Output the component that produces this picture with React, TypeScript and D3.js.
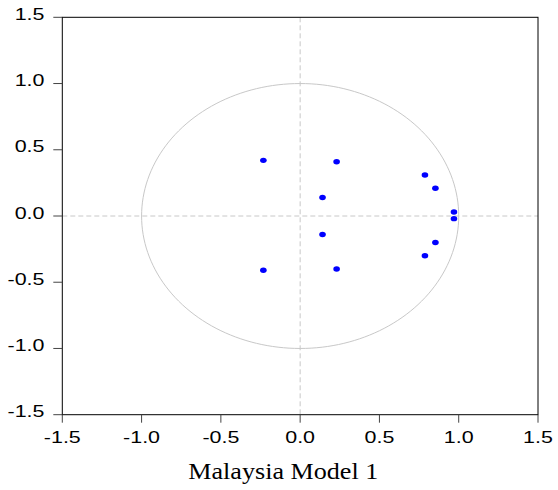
import React from "react";
import * as d3 from "d3";

const rootsRe: number[] = [-0.232, -0.232, 0.23, 0.23, 0.141, 0.141, 0.787, 0.787, 0.853, 0.853, 0.97, 0.97];
const rootsIm: number[] = [0.42, -0.41, 0.41, -0.4, 0.14, -0.14, 0.31, -0.3, 0.21, -0.2, 0.03, -0.02];
const ticks: number[] = [-1.5, -1.0, -0.5, 0.0, 0.5, 1.0, 1.5];
const title = "Malaysia Model 1";

export default function App() {
  const W = 558, H = 490;
  const left = 62.3, right = 538, top = 17.3, bottom = 414.7;
  const x = d3.scaleLinear().domain([-1.5, 1.5]).range([left, right]);
  const y = d3.scaleLinear().domain([-1.5, 1.5]).range([bottom, top]);
  const circle = d3.range(0, 361, 2).map((a) => [Math.cos((a * Math.PI) / 180), Math.sin((a * Math.PI) / 180)] as [number, number]);
  const circlePath = d3.line<[number, number]>().x((d) => x(d[0])).y((d) => y(d[1]))(circle) || "";
  const font = "'Liberation Sans', Arial, sans-serif";
  const fs = 16.5;
  const sx = 1.3;
  return (
    <svg width={W} height={H} style={{ position: "absolute", left: 0, top: 0, background: "#fff" }}>
      <rect x={0} y={0} width={W} height={H} fill="#fff" />
      <line x1={x(0)} x2={x(0)} y1={top} y2={bottom} stroke="#c8c8c8" strokeDasharray="5,3" strokeWidth={1} />
      <line x1={left} x2={right} y1={y(0)} y2={y(0)} stroke="#c8c8c8" strokeDasharray="5,3" strokeWidth={1} />
      <path d={circlePath} fill="none" stroke="#c8c8c8" strokeWidth={1} />
      {rootsRe.map((re, i) => (
        <ellipse key={i} cx={x(re)} cy={y(rootsIm[i])} rx={3.3} ry={2.7} fill="#0000ff" />
      ))}
      <rect x={left} y={top} width={right - left} height={bottom - top} fill="none" stroke="#000" strokeWidth={1} />
      {ticks.map((t) => (
        <g key={"y" + t}>
          <line x1={left - 9} x2={left} y1={y(t)} y2={y(t)} stroke="#444" strokeWidth={1} />
          <g transform={`translate(44.5,${y(t) + 2.5}) scale(${sx},1)`}>
            <text x={0} y={0} textAnchor="end" fontFamily={font} fontSize={fs} fill="#000">
              {t.toFixed(1)}
            </text>
          </g>
        </g>
      ))}
      {ticks.map((t) => (
        <g key={"x" + t}>
          <line x1={x(t)} x2={x(t)} y1={bottom} y2={bottom + 8} stroke="#444" strokeWidth={1} />
          <g transform={`translate(${x(t)},442.7) scale(${sx},1)`}>
            <text x={0} y={0} textAnchor="middle" fontFamily={font} fontSize={fs} fill="#000">
              {t.toFixed(1)}
            </text>
          </g>
        </g>
      ))}
      <text x={188.3} y={479} textLength={190} lengthAdjust="spacingAndGlyphs" fontFamily="'Liberation Serif', 'Times New Roman', serif" fontSize={24} fill="#000">
        {title}
      </text>
    </svg>
  );
}
